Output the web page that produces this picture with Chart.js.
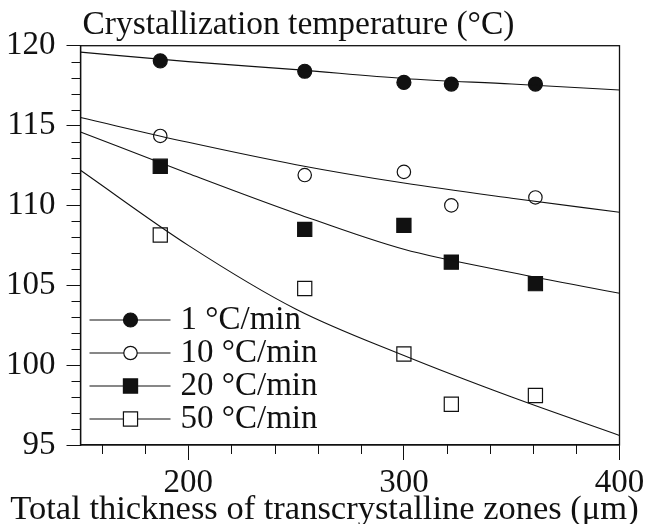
<!DOCTYPE html>
<html>
<head>
<meta charset="utf-8">
<script src="https://cdn.jsdelivr.net/npm/chart.js@4.4.1/dist/chart.umd.min.js"></script>
<style>
  html, body { margin: 0; padding: 0; background: #fff; }
  #wrap { width: 649px; height: 524px; }
</style>
</head>
<body>
<div id="wrap"><canvas id="chart" width="649" height="524"></canvas></div>
<script>
// Crystallization temperature vs total thickness of transcrystalline zones
const rates = ['1 °C/min', '10 °C/min', '20 °C/min', '50 °C/min'];

// measured points
const thickness = [187, 254, 300, 322, 361];
const temp1 = [119.05, 118.4, 117.7, 117.6, 117.6];
const temp10 = [114.35, 111.9, 112.1, 110.0, 110.5];
const temp20 = [112.45, 108.5, 108.75, 106.45, 105.1];
const temp50 = [108.15, 104.8, 100.7, 97.55, 98.1];

// fitted curves
const fitX = [150, 200, 250, 300, 350, 400];
const fit1 = [119.6, 119.0, 118.5, 117.95, 117.6, 117.23];
const fit10 = [115.5, 113.95, 112.55, 111.4, 110.45, 109.57];
const fit20 = [114.6, 112.0, 109.5, 107.25, 105.8, 104.5];
const fit50 = [112.2, 107.5, 103.5, 100.6, 98.0, 95.6];

// axis ticks
const xMajor = [200, 300, 400];
const xMinor = [160, 180, 220, 240, 260, 280, 320, 340, 360, 380];
const yMajor = [95, 100, 105, 110, 115, 120];
const yMinor = [96, 97, 98, 99, 101, 102, 103, 104, 106, 107, 108, 109, 111, 112, 113, 114, 116, 117, 118, 119];

const yTitle = 'Crystallization temperature (°C)';
const xTitle = 'Total thickness of transcrystalline zones (μm)';

const FONT = "'Liberation Serif', 'Times New Roman', serif";
const INK = '#111';

function pts(xs, ys) {
    return xs.map((x, i) => ({ x: x, y: ys[i] }));
}

const markerStyles = [
    { pointStyle: 'circle', fill: INK, radius: 7 },
    { pointStyle: 'circle', fill: '#fff', radius: 6.7 },
    { pointStyle: 'rect', fill: INK, radius: 10 },
    { pointStyle: 'rect', fill: '#fff', radius: 10 }
];

const measured = [temp1, temp10, temp20, temp50];
const fits = [fit1, fit10, fit20, fit50];

const datasets = [];
fits.forEach((f, i) => {
    datasets.push({
        label: 'fit ' + rates[i],
        data: pts(fitX, f),
        showLine: true,
        borderColor: INK,
        borderWidth: 1.1,
        pointRadius: 0,
        cubicInterpolationMode: 'monotone',
        fill: false
    });
});
measured.forEach((m, i) => {
    const s = markerStyles[i];
    datasets.push({
        label: rates[i],
        data: pts(thickness, m),
        showLine: false,
        pointStyle: s.pointStyle,
        pointRadius: s.radius,
        pointHoverRadius: s.radius,
        backgroundColor: s.fill,
        borderColor: INK,
        borderWidth: 1.2
    });
});

// frame, minor ticks, titles and inset legend
const decorations = {
    id: 'decorations',
    afterDraw(chart) {
        const ctx = chart.ctx;
        const a = chart.chartArea;
        const xs = chart.scales.x;
        const ys = chart.scales.y;
        ctx.save();
        ctx.strokeStyle = INK;
        ctx.lineWidth = 1.3;
        ctx.strokeRect(a.left, a.top, a.right - a.left, a.bottom - a.top);

        ctx.lineWidth = 1;
        ctx.beginPath();
        xMinor.forEach(v => {
            const px = Math.round(xs.getPixelForValue(v)) + 0.5;
            ctx.moveTo(px, a.bottom);
            ctx.lineTo(px, a.bottom + 9);
        });
        yMinor.forEach(v => {
            const py = Math.round(ys.getPixelForValue(v)) + 0.5;
            ctx.moveTo(a.left, py);
            ctx.lineTo(a.left - 9, py);
        });
        ctx.stroke();

        ctx.fillStyle = INK;
        ctx.font = '33.5px ' + FONT;
        ctx.textAlign = 'left';
        ctx.textBaseline = 'alphabetic';
        ctx.fillText(yTitle, a.left + 2, 34);

        ctx.font = '34.5px ' + FONT;
        ctx.textAlign = 'center';
        ctx.fillText(xTitle, 324.5, 519);

        // legend
        const rowY = [320, 353, 386, 419];
        ctx.font = '33px ' + FONT;
        ctx.textAlign = 'left';
        ctx.textBaseline = 'middle';
        rates.forEach((r, i) => {
            const y = rowY[i];
            const s = markerStyles[i];
            ctx.lineWidth = 1.2;
            ctx.strokeStyle = INK;
            ctx.beginPath();
            ctx.moveTo(a.left + 9, y);
            ctx.lineTo(a.left + 90, y);
            ctx.stroke();
            ctx.fillStyle = s.fill;
            ctx.beginPath();
            const cx = a.left + 50;
            if (s.pointStyle === 'circle') {
                ctx.arc(cx, y, s.radius, 0, Math.PI * 2);
            } else {
                const h = s.radius * Math.SQRT1_2;
                ctx.rect(cx - h, y - h, 2 * h, 2 * h);
            }
            ctx.fill();
            ctx.stroke();
            ctx.fillStyle = INK;
            ctx.fillText(r, a.left + 100, y);
        });
        ctx.restore();
    }
};

new Chart(document.getElementById('chart'), {
    type: 'scatter',
    data: { datasets: datasets },
    options: {
        responsive: false,
        animation: false,
        events: [],
        layout: { padding: { left: 0, right: 29.5, top: 45.7, bottom: 0 } },
        plugins: {
            legend: { display: false },
            tooltip: { enabled: false }
        },
        scales: {
            x: {
                type: 'linear',
                min: 150,
                max: 400,
                afterBuildTicks: s => { s.ticks = xMajor.map(v => ({ value: v })); },
                afterFit: s => { s.height = 79; },
                grid: { drawOnChartArea: false, drawTicks: true, tickLength: 15, tickColor: INK },
                border: { display: true, color: INK, width: 1.3 },
                ticks: { color: INK, font: { family: FONT, size: 33 }, padding: 4, maxRotation: 0 }
            },
            y: {
                type: 'linear',
                min: 95,
                max: 120,
                afterBuildTicks: s => { s.ticks = yMajor.map(v => ({ value: v })); },
                afterFit: s => { s.width = 80.5; },
                grid: { drawOnChartArea: false, drawTicks: true, tickLength: 14, tickColor: INK },
                border: { display: true, color: INK, width: 1.3 },
                ticks: { color: INK, font: { family: FONT, size: 33 }, padding: 11 }
            }
        }
    },
    plugins: [decorations]
});
</script>
</body>
</html>
